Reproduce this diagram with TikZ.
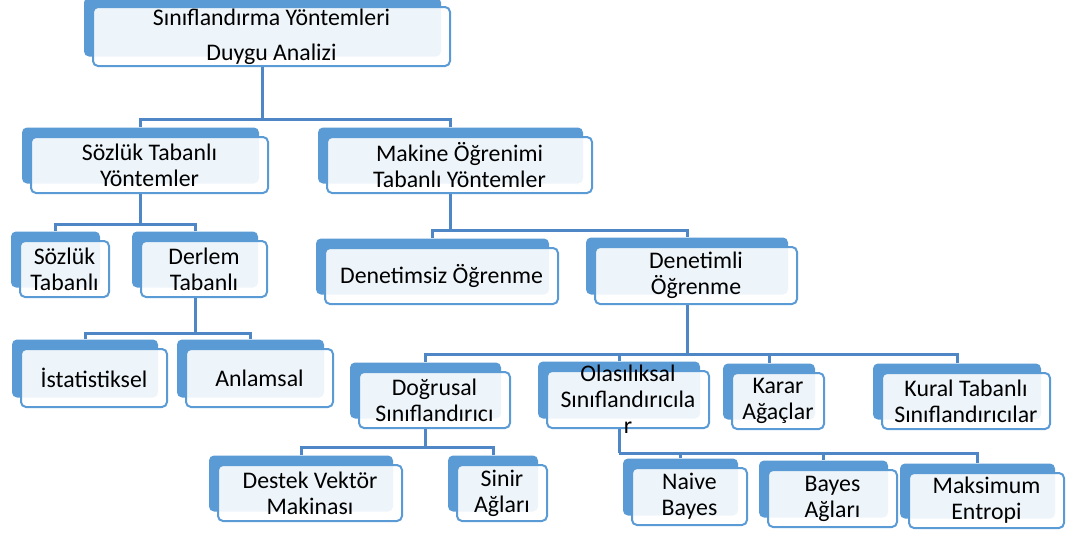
\documentclass[tikz,border=0pt]{standalone}
\usepackage{fontspec}
\setmainfont{Carlito}
\usepackage{tikz}
\usetikzlibrary{
  positioning,
  shadows,
  backgrounds
}
\definecolor{BoxBlue}{HTML}{5B9BD5}
\definecolor{LineBlue}{HTML}{4F86C6}
\tikzset{
  % Hierarchy box: light front card over a solid blue back card
  box/.style={
    rectangle, rounded corners=5pt,
    draw=BoxBlue, line width=2pt,
    fill=white, fill opacity=0.9, text opacity=1,
    general shadow={fill=BoxBlue, fill opacity=1, shadow xshift=-9pt, shadow yshift=9.5pt},
    minimum width=#1, minimum height=56pt, inner sep=0pt,
    align=center, font=\fontsize{23.8}{26}\selectfont
  },
  % Tree connector
  conn/.style={draw=LineBlue, line width=3pt}
}

\begin{document}
\begin{tikzpicture}[x=1pt, y=-1pt]

  \useasboundingbox (0,0) rectangle (1066,533);

  % Root
  \node[box=357pt, minimum height=59pt] (top) at (271.5,36.5) {Sınıflandırma Yöntemleri\\[9pt]Duygu Analizi};

  % Second level
  \node[box=237pt] (soz) at (149.5,165) {Sözlük Tabanlı\\Yöntemler};
  \node[box=265pt] (mak) at (459.5,165) {Makine Öğrenimi\\Tabanlı Yöntemler};

  % Lexicon branch
  \node[box=89pt]  (sozt) at (64.5,269) {Sözlük\\Tabanlı};
  \node[box=126pt] (der)  at (204,269)  {Derlem\\Tabanlı};
  \node[box=146pt, minimum height=58pt] (ist) at (94,378)    {İstatistiksel};
  \node[box=147pt, minimum height=58pt] (anl) at (259.5,378) {Anlamsal};

  % Machine learning branch
  \node[box=233pt] (dsz) at (441.5,276) {Denetimsiz Öğrenme};
  \node[box=202pt, minimum height=57pt] (dtl) at (696,275.5) {Denetimli\\Öğrenme};

  % Supervised classifiers
  \node[box=151pt] (dog) at (434.5,400) {Doğrusal\\Sınıflandırıcı};
  \node[box=162pt, minimum height=57pt] (ola) at (628,399.5) {};
  \node[align=center, font=\fontsize{23.8}{26}\selectfont] (olatxt) at (ola.center) {Olasılıksal\\Sınıflandırıcıla\\r};
  \node[box=92pt]  (kar) at (778,401) {Karar\\Ağaçlar};
  \node[box=168pt] (kur) at (966,401) {Kural Tabanlı\\Sınıflandırıcılar};

  % Leaves
  \node[box=184pt] (des) at (310,493) {Destek Vektör\\Makinası};
  \node[box=90pt]  (sin) at (502,493) {Sinir\\Ağları};
  \node[box=115pt, minimum height=57pt] (nai) at (689.5,496.5) {Naive\\Bayes};
  \node[box=129pt, minimum height=57pt] (bay) at (832.5,498.5) {Bayes\\Ağları};
  \node[box=155pt, minimum height=55pt] (mxe) at (986.5,500.5) {Maksimum\\Entropi};

  \begin{scope}[on background layer]
    \draw[conn] ([xshift=-9pt]top.south) -- ++(0,52) coordinate (j0);
    \draw[conn] (j0) -| ([xshift=-9pt,yshift=9pt]soz.north);
    \draw[conn] (j0) -| ([xshift=-9pt,yshift=9pt]mak.north);

    \draw[conn] ([xshift=-9pt]soz.south) -- ++(0,30) coordinate (j1);
    \draw[conn] (j1) -| ([xshift=-9pt,yshift=9pt]sozt.north);
    \draw[conn] (j1) -| ([xshift=-9pt,yshift=9pt]der.north);

    \draw[conn] ([xshift=-9pt]der.south) -- ++(0,35) coordinate (j2);
    \draw[conn] (j2) -| ([xshift=-9pt,yshift=9pt]ist.north);
    \draw[conn] (j2) -| ([xshift=-9pt,yshift=9pt]anl.north);

    \draw[conn] ([xshift=-9pt]mak.south) -- ++(0,36) coordinate (j3);
    \draw[conn] (j3) -| ([xshift=-9pt,yshift=9pt]dsz.north);
    \draw[conn] (j3) -| ([xshift=-9pt,yshift=9pt]dtl.north);

    \draw[conn] ([xshift=-9pt]dtl.south) -- ++(0,49) coordinate (j4);
    \draw[conn] (j4) -| ([xshift=-9pt,yshift=9pt]dog.north);
    \draw[conn] (j4) -| ([xshift=-9pt,yshift=9pt]ola.north);
    \draw[conn] (j4) -| ([xshift=-9pt,yshift=9pt]kar.north);
    \draw[conn] (j4) -| ([xshift=-9pt,yshift=9pt]kur.north);

    \draw[conn] ([xshift=-9pt]dog.south) -- ++(0,18) coordinate (j5);
    \draw[conn] (j5) -| ([xshift=-9pt,yshift=9pt]des.north);
    \draw[conn] (j5) -| ([xshift=-9pt,yshift=9pt]sin.north);

    \draw[conn] ([xshift=-9pt]ola.south) -- ++(0,24) coordinate (j6);
    \draw[conn] (j6) -| ([xshift=-9pt,yshift=9pt]nai.north);
    \draw[conn] (j6) -| ([xshift=-9pt,yshift=9pt]bay.north);
    \draw[conn] (j6) -| ([xshift=-9pt,yshift=9pt]mxe.north);
  \end{scope}

\end{tikzpicture}
\end{document}
